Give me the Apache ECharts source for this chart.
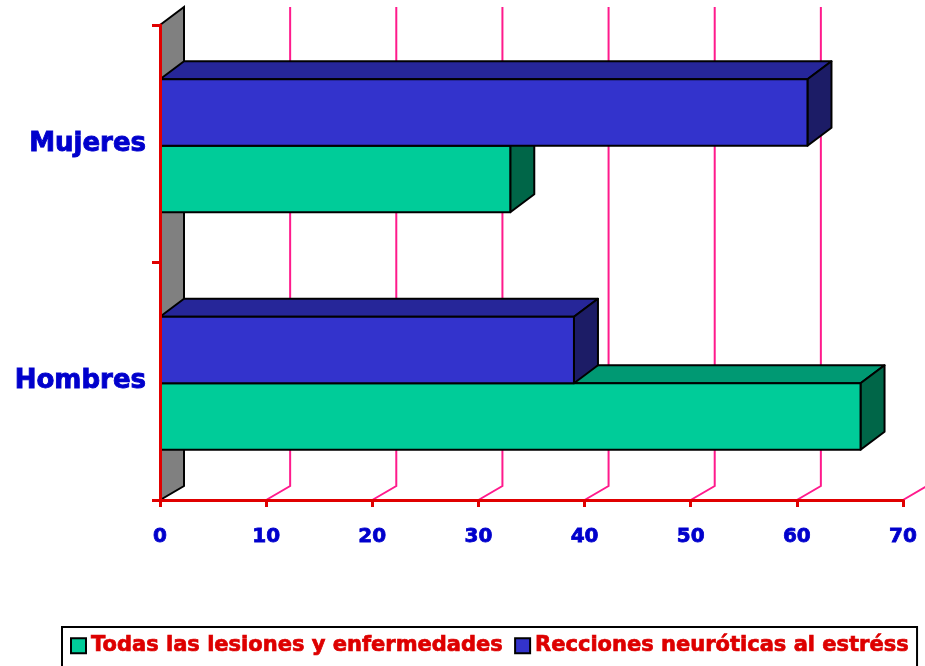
<!DOCTYPE html>
<html><head><meta charset="utf-8">
<script src="https://cdn.jsdelivr.net/npm/echarts@6/dist/echarts.min.js"></script>
<style>html,body{margin:0;padding:0;background:#fff}#c{width:925px;height:666px}</style>
</head><body><div id="c"></div>
<script>
const categories = ['Hombres', 'Mujeres'];
const seriesNames = ['Todas las lesiones y enfermedades', 'Recciones neuróticas al estréss'];
const lesiones = [66, 33];
const neuroticas = [39, 61];
const xTicks = [10, 20, 30, 40, 50, 60, 70];

const DX = 24, DY = -18;
const RED = '#e00000', BLUE_TXT = '#0000cc';
const palettes = [
  { front: '#00cc99', top: '#009973', side: '#006648' },
  { front: '#3333cc', top: '#262699', side: '#1c1c66' }
];

function bar3d(slot) {
  const pal = palettes[slot];
  return function (params, api) {
    const val = api.value(0), cat = api.value(1);
    const p0 = api.coord([0, cat]);
    const p1 = api.coord([val, cat]);
    const band = api.size([0, 1])[1];
    const h = band * 0.28;
    const c = p0[1] + 2;
    const y0 = slot === 0 ? c : c - h;
    const y1 = y0 + h;
    const x0 = p0[0], x1 = p1[0];
    const st = (f) => ({ fill: f, stroke: '#000', lineWidth: 2, lineJoin: 'round' });
    return {
      type: 'group', children: [
        { type: 'polygon', shape: { points: [[x0, y0], [x0 + DX, y0 + DY], [x1 + DX, y0 + DY], [x1, y0]] }, style: st(pal.top) },
        { type: 'polygon', shape: { points: [[x1, y0], [x1 + DX, y0 + DY], [x1 + DX, y1 + DY], [x1, y1]] }, style: st(pal.side) },
        { type: 'rect', shape: { x: x0, y: y0, width: x1 - x0, height: h }, style: st(pal.front) }
      ]
    };
  };
}

const chart = echarts.init(document.getElementById('c'), null, { renderer: 'canvas' });
chart.setOption({
  backgroundColor: '#fff',
  animation: false,
  grid: { left: 160, right: 22, top: 25, bottom: 166, containLabel: false },
  xAxis: {
    type: 'value', min: 0, max: 70, interval: 10, z: 10,
    axisLine: { show: true, lineStyle: { color: RED, width: 3 } },
    axisTick: { show: true, length: 7, lineStyle: { color: RED, width: 3 } },
    splitLine: { show: false },
    axisLabel: { color: BLUE_TXT, fontSize: 20, fontWeight: 'bold', fontFamily: 'DejaVu Sans', margin: 27,
      textBorderColor: BLUE_TXT, textBorderWidth: 0.8 }
  },
  yAxis: {
    type: 'category', data: categories, z: 10,
    axisLine: { show: true, lineStyle: { color: RED, width: 3 } },
    axisTick: { show: true, length: 8, lineStyle: { color: RED, width: 3 } },
    axisLabel: { color: BLUE_TXT, fontSize: 26, fontWeight: 'bold', fontFamily: 'DejaVu Sans', margin: 14,
      textBorderColor: BLUE_TXT, textBorderWidth: 0.9, padding: [8, 0, 0, 0] }
  },
  legend: {
    left: 62, top: 627,
    data: seriesNames.map((n, i) => ({ name: n, icon: 'rect', itemStyle: { color: palettes[i].front, borderColor: '#000', borderWidth: 2 } })),
    itemWidth: 15, itemHeight: 15, itemGap: 11,
    padding: [8, 8, 30, 8],
    borderColor: '#000', borderWidth: 2,
    textStyle: { color: '#dd0000', fontSize: 21, fontWeight: 'bold', fontFamily: 'DejaVu Sans',
      textBorderColor: '#dd0000', textBorderWidth: 0.7 }
  },
  series: [
    {
      type: 'custom', name: '_grid', z: 1, silent: true,
      data: xTicks.map(v => [v]),
      encode: { x: 0 },
      renderItem: function (params, api) {
        const cs = params.coordSys;
        const x = api.coord([api.value(0), 0])[0];
        const yT = cs.y, yB = cs.y + cs.height;
        return { type: 'polyline', shape: { points: [[x + DX, yT + DY], [x + DX, yB - 14], [x, yB]] }, style: { stroke: '#ff1a8c', lineWidth: 2, fill: null } };
      }
    },
    {
      type: 'custom', name: '_wall', z: 2, silent: true,
      data: [[0]],
      encode: { x: 0 },
      renderItem: function (params, api) {
        const cs = params.coordSys;
        const x = cs.x, yT = cs.y, yB = cs.y + cs.height;
        return { type: 'polygon', shape: { points: [[x, yT], [x + DX, yT + DY], [x + DX, yB - 14], [x, yB]] }, style: { fill: '#808080', stroke: '#000', lineWidth: 2 } };
      }
    },
    {
      type: 'custom', name: seriesNames[0], z: 3,
      itemStyle: { color: palettes[0].front },
      data: lesiones.map((v, i) => [v, i]),
      encode: { x: 0, y: 1 },
      renderItem: bar3d(0)
    },
    {
      type: 'custom', name: seriesNames[1], z: 4,
      itemStyle: { color: palettes[1].front },
      data: neuroticas.map((v, i) => [v, i]),
      encode: { x: 0, y: 1 },
      renderItem: bar3d(1)
    }
  ]
});
</script>
</body></html>
